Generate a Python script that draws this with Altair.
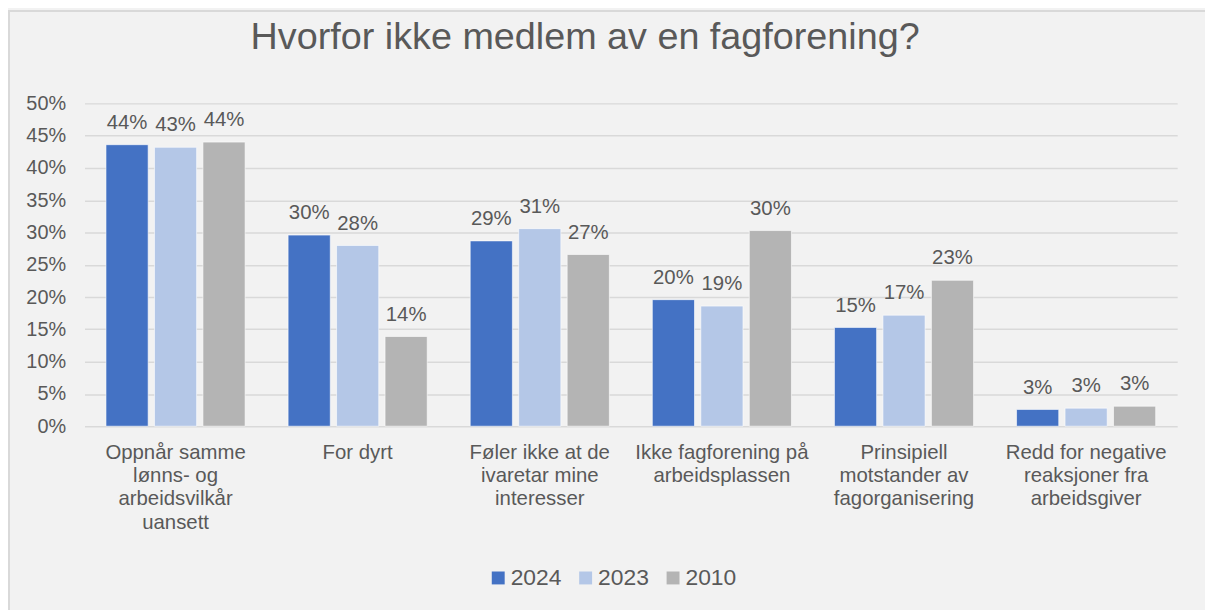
import altair as alt
import pandas as pd

categories = [
    "Oppnår samme\nlønns- og\narbeidsvilkår\nuansett",
    "For dyrt",
    "Føler ikke at de\nivaretar mine\ninteresser",
    "Ikke fagforening på\narbeidsplassen",
    "Prinsipiell\nmotstander av\nfagorganisering",
    "Redd for negative\nreaksjoner fra\narbeidsgiver",
]
years = ["2024", "2023", "2010"]
v2024 = [43.6, 29.6, 28.7, 19.6, 15.3, 2.6]
v2023 = [43.2, 28.0, 30.6, 18.6, 17.2, 2.8]
v2010 = [44.0, 13.9, 26.6, 30.3, 22.6, 3.1]
colors = ["#4472C4", "#B4C7E7", "#B4B4B4"]
y_ticks = [0, 5, 10, 15, 20, 25, 30, 35, 40, 45, 50]

rows = []
for yr, vals in zip(years, [v2024, v2023, v2010]):
    for c, v in zip(categories, vals):
        rows.append({"kategori": c, "år": yr, "verdi": v})
df = pd.DataFrame(rows)

FONT = "Liberation Sans"
TXT = "#595959"

x_enc = alt.X(
    "kategori:N",
    sort=categories,
    title=None,
    scale=alt.Scale(paddingInner=0.236, paddingOuter=0.118),
    axis=alt.Axis(
        labelAngle=0,
        labelExpr="split(datum.label, '\\n')",
        labelFontSize=20.5,
        labelFont=FONT,
        labelColor=TXT,
        labelLineHeight=23.5,
        labelPadding=16,
        labelBaseline="top",
        labelLimit=300,
        ticks=False,
        domain=False,
        grid=False,
    ),
)
xoff = alt.XOffset("år:N", sort=years, scale=alt.Scale(paddingInner=0.13, paddingOuter=0))
y_enc = alt.Y(
    "verdi:Q",
    title=None,
    scale=alt.Scale(domain=[0, 50], nice=False),
    axis=alt.Axis(
        values=y_ticks,
        labelExpr="datum.value + '%'",
        labelFontSize=20,
        labelFont=FONT,
        labelColor=TXT,
        labelPadding=19,
        labelOverlap=False,
        ticks=False,
        domain=False,
        gridColor="#D9D9D9",
        gridWidth=1.5,
    ),
)

bars = alt.Chart(df).mark_bar(stroke="#FFFFFF", strokeWidth=1, strokeOpacity=0.6).encode(
    x=x_enc,
    xOffset=xoff,
    y=y_enc,
    color=alt.Color(
        "år:N",
        sort=years,
        scale=alt.Scale(domain=years, range=colors),
        legend=alt.Legend(
            title=None,
            orient="none",
            legendX=405,
            legendY=466,
            direction="horizontal",
            symbolType="square",
            symbolSize=169,
            symbolStrokeWidth=0,
            labelFontSize=23,
            labelFont=FONT,
            labelColor=TXT,
            labelOffset=1,
            columnPadding=12,
        ),
    ),
)

labels = alt.Chart(df).transform_calculate(
    lbl="format(datum.verdi, '.0f') + '%'"
).mark_text(
    baseline="alphabetic", dy=-16, fontSize=20.5, font=FONT, color=TXT
).encode(
    x=x_enc,
    xOffset=xoff,
    y=y_enc,
    text="lbl:N",
)

border_df = pd.DataFrame({"k": [0]})
border_v = alt.Chart(border_df).mark_rule(color="#D9D9D9", strokeWidth=2).encode(
    x=alt.value(-76), y=alt.value(-93), y2=alt.value(520)
)
border_h = alt.Chart(border_df).mark_rule(color="#D9D9D9", strokeWidth=2).encode(
    x=alt.value(-77), x2=alt.value(1130), y=alt.value(-93)
)

chart = (
    alt.layer(border_v, border_h, bars, labels)
    .properties(
        width=1100,
        height=325,
        background="#F2F2F2",
        autosize=alt.AutoSizeParams(type="none"),
        padding={"left": 77, "top": 94, "right": 28, "bottom": 183},
        title=alt.Title(
            "Hvorfor ikke medlem av en fagforening?",
            fontSize=38,
            font=FONT,
            color=TXT,
            fontWeight="normal",
            anchor="middle",
            dx=-46,
            offset=-77,
            baseline="alphabetic",
        ),
    )
    .configure_view(stroke=None)
)

chart.save("out.html", embed_options={"renderer": "svg", "actions": False})
